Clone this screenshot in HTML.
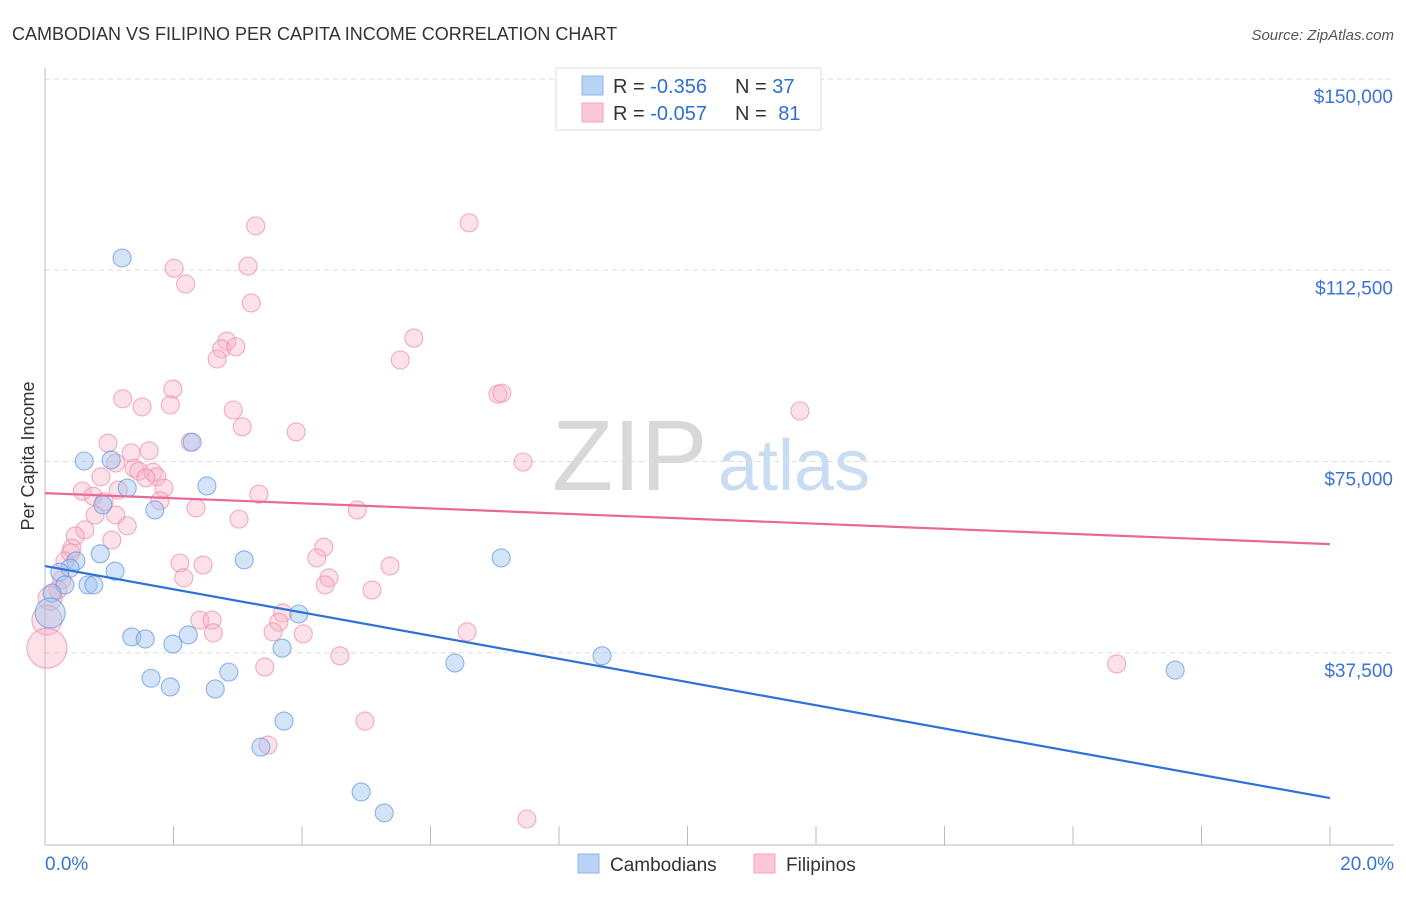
<!DOCTYPE html>
<html><head><meta charset="utf-8"><style>
body{margin:0;background:#fff;font-family:"Liberation Sans",sans-serif;}
svg text{font-family:"Liberation Sans",sans-serif;}
</style></head><body>
<svg id="chart" width="1406" height="892">
<text x="12" y="40" font-size="18" fill="#333">CAMBODIAN VS FILIPINO PER CAPITA INCOME CORRELATION CHART</text>
<text x="1394" y="40" font-size="15" fill="#555" font-style="italic" text-anchor="end">Source: ZipAtlas.com</text>
<g>
<text x="552" y="490" font-size="100" fill="#d8d8d8" font-family="Liberation Serif, serif">ZIP</text>
<text x="718" y="490" font-size="72" fill="#c8dcf2">atlas</text>
</g>
<g id="grid"></g>
<g id="axes"></g>
<g id="pts"></g>
<g id="lines"></g>
<text transform="translate(34,456) rotate(-90)" font-size="18" fill="#333" text-anchor="middle">Per Capita Income</text>
<g>
<rect x="556" y="68" width="265" height="62" fill="#fff" stroke="#ddd"/>
<rect x="582" y="76" width="21" height="19" fill="#b9d3f5" stroke="#8db4e8"/>
<rect x="582" y="103" width="21" height="19" fill="#fcc8d8" stroke="#f0a4bc"/>
<text x="613" y="93" font-size="20" fill="#333">R = <tspan fill="#2f6fd0">-0.356</tspan></text>
<text x="735" y="93" font-size="20" fill="#333">N = <tspan fill="#2f6fd0">37</tspan></text>
<text x="613" y="120" font-size="20" fill="#333">R = <tspan fill="#2f6fd0">-0.057</tspan></text>
<text x="735" y="120" font-size="20" fill="#333">N = <tspan fill="#2f6fd0" dx="6">81</tspan></text>
</g>
<g>
<rect x="578" y="854" width="21" height="19" fill="#b9d3f5" stroke="#8db4e8"/>
<text x="610" y="871" font-size="19" fill="#333">Cambodians</text>
<rect x="754" y="854" width="21" height="19" fill="#fcc8d8" stroke="#f0a4bc"/>
<text x="786" y="871" font-size="19" fill="#333">Filipinos</text>
</g>
</svg>
<script>
const yTicks=[37500,75000,112500,150000];
const yTickLabels=["$37,500","$75,000","$112,500","$150,000"];
const xTickLabels=["0.0%","20.0%"];
const blueX=[1.20,0.61,1.03,2.29,1.28,2.52,0.90,1.71,0.86,0.48,3.10,7.10,0.39,0.23,1.09,0.67,0.76,0.31,0.11,3.95,1.35,1.56,2.23,1.99,3.69,8.67,6.38,17.59,2.86,1.65,1.95,2.65,3.72,3.36,4.92,5.28,0.08];
const blueY=[114.9,75.1,75.3,78.8,69.8,70.2,66.5,65.5,56.9,55.5,55.7,56.1,54.1,53.3,53.5,50.8,50.8,50.8,49.2,45.1,40.6,40.2,41.0,39.2,38.4,36.9,35.5,34.1,33.7,32.5,30.8,30.4,24.1,19.0,10.2,6.1,45.3];
const blueR=[9,9,9,9,9,9,9,9,9,9,9,9,9,9,9,9,9,9,9,9,9,9,9,9,9,9,9,9,9,9,9,9,9,9,9,9,15];
const pinkX=[3.28,6.60,2.01,3.16,2.19,3.21,2.83,2.75,2.97,2.68,5.74,5.53,1.99,1.21,1.51,1.95,2.93,7.05,7.11,11.75,3.07,3.91,0.98,1.62,1.34,2.26,1.10,1.39,1.46,1.68,1.74,1.57,0.87,7.44,0.58,1.14,1.85,0.75,3.33,1.79,0.92,2.35,4.86,1.10,0.78,3.02,1.28,0.62,0.47,1.04,0.42,4.34,0.31,2.10,4.23,2.46,5.37,0.40,2.16,4.42,4.36,5.09,0.26,0.20,0.08,0.03,0.03,3.70,3.64,2.41,2.60,2.62,3.55,4.02,6.57,4.59,3.42,16.68,4.98,3.47,7.50];
const pinkY=[121.2,121.8,112.9,113.3,109.8,106.1,98.6,97.1,97.5,95.1,99.2,94.9,89.2,87.3,85.7,86.1,85.1,88.2,88.4,84.9,81.8,80.8,78.6,77.1,76.7,78.8,74.7,73.7,73.1,72.9,72.0,71.8,72.0,74.9,69.2,69.4,69.8,68.2,68.6,67.3,67.1,65.9,65.5,64.5,64.5,63.7,62.4,61.6,60.4,59.6,58.0,58.2,55.5,55.1,56.1,54.7,54.5,57.1,52.2,52.2,50.8,49.8,51.8,49.8,48.2,43.9,38.4,45.3,43.5,43.9,43.9,41.4,41.6,41.2,41.6,36.9,34.7,35.3,24.1,19.4,4.9];
const pinkR=pinkX.map((_,i)=>i===64?12:(i===65?15:(i===66?20:9)));
const blueLine=[54.5,9.0];
const pinkLine=[68.8,58.8];
const NS="http://www.w3.org/2000/svg";
const X=v=>45+v*64.25;
const Y=v=>844-v*5.1;
function mk(tag,attrs,parent){const e=document.createElementNS(NS,tag);for(const k in attrs)e.setAttribute(k,attrs[k]);parent.appendChild(e);return e;}
const grid=document.getElementById('grid'),axes=document.getElementById('axes'),pts=document.getElementById('pts'),lines=document.getElementById('lines');
yTicks.forEach((t,i)=>{
 const g=mk('line',{x1:45,x2:1394,y1:Y(t/1000),y2:Y(t/1000),stroke:'#ddd','stroke-dasharray':'5,4'},grid);
 
 
 const tx=mk('text',{x:1393,y:Y(t/1000)+24,'font-size':19,fill:'#3a74d0','text-anchor':'end'},axes);
 tx.textContent=yTickLabels[i];
 
 
});
const ax=mk('line',{x1:45,x2:45,y1:68,y2:845,stroke:'#bbb'},axes);


const bx=mk('line',{x1:45,x2:1394,y1:845,y2:845,stroke:'#bbb'},axes);


for(let i=0;i<=10;i++){
 const tk=mk('line',{x1:X(i*2),x2:X(i*2),y1:826,y2:845,stroke:'#bbb'},axes);
 
 
}
[[0,'start',45],[20,'end',1394]].forEach((d,i)=>{
 const t=mk('text',{x:d[2],y:870,'font-size':19,fill:'#3a74d0','text-anchor':d[1]},axes);
 t.textContent=xTickLabels[i];
 
 
});
pinkX.forEach((x,i)=>{
 const c=mk('circle',{cx:X(x),cy:Y(pinkY[i]),r:pinkR[i],fill:'rgba(248,175,198,0.38)',stroke:'rgba(235,140,170,0.7)','stroke-width':1.1},pts);
 
 
});
blueX.forEach((x,i)=>{
 const c=mk('circle',{cx:X(x),cy:Y(blueY[i]),r:blueR[i],fill:'rgba(160,196,240,0.45)',stroke:'rgba(100,150,220,0.7)','stroke-width':1.1},pts);
 
 
});
const bl=mk('line',{x1:X(0),x2:X(20),y1:Y(blueLine[0]),y2:Y(blueLine[1]),stroke:'#2f72d6','stroke-width':2.2},lines);


const pl=mk('line',{x1:X(0),x2:X(20),y1:Y(pinkLine[0]),y2:Y(pinkLine[1]),stroke:'#e8689a','stroke-width':2.2},lines);


</script>
</body></html>
